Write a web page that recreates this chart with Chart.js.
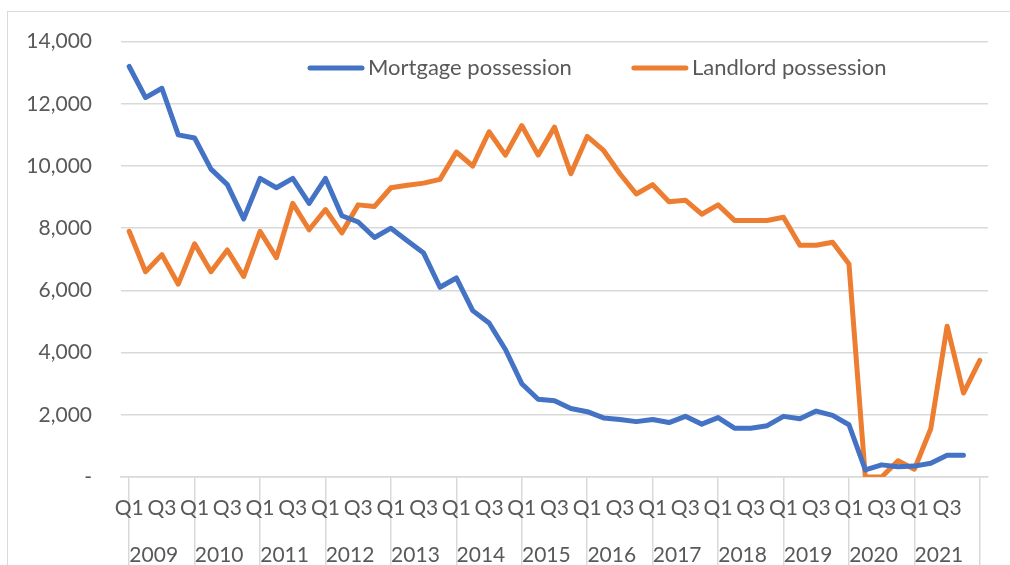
<!DOCTYPE html>
<html>
<head>
<meta charset="utf-8">
<script src="https://cdn.jsdelivr.net/npm/chart.js@4.4.0/dist/chart.umd.min.js"></script>
<style>
  html, body { margin: 0; padding: 0; background: #fff; overflow: hidden; }
  #wrap { position: relative; width: 1010px; height: 565px; overflow: hidden; }
  #frame { position: absolute; left: 7px; top: 11px; width: 1100px; height: 700px; border: 1.5px solid #d9d9d9; }
  canvas { position: absolute; left: 0; top: 0; }
</style>
</head>
<body>
<div id="wrap">
  <div id="frame"></div>
  <canvas id="chart" width="1010" height="565"></canvas>
</div>
<script>
// quarterly possession claims, 2009 Q1 onwards
const years = [2009, 2010, 2011, 2012, 2013, 2014, 2015, 2016, 2017, 2018, 2019, 2020, 2021]
const quarters = ['Q1', 'Q2', 'Q3', 'Q4']
const shownQuarters = ['Q1', 'Q3']

const mortgage = [
  13200, 12200, 12500, 11000, 10900, 9900, 9400, 8300, 9600, 9300,
  9600, 8800, 9600, 8400, 8200, 7700, 8000, 7600, 7200, 6100,
  6400, 5350, 4950, 4100, 3000, 2500, 2450, 2200, 2100, 1900,
  1850, 1780, 1850, 1750, 1950, 1700, 1910, 1570, 1570, 1650,
  1950, 1870, 2120, 1980, 1680, 230, 390, 330, 350, 440,
  700, 700
]
const landlord = [
  7900, 6600, 7150, 6200, 7500, 6600, 7300, 6450, 7900, 7050,
  8800, 7950, 8600, 7850, 8750, 8700, 9300, 9380, 9450, 9570,
  10450, 10000, 11100, 10350, 11300, 10350, 11250, 9750, 10950, 10500,
  9750, 9100, 9400, 8850, 8900, 8450, 8750, 8250, 8250, 8250,
  8350, 7450, 7450, 7550, 6850, 0, 0, 520, 250, 1550,
  4850, 2700, 3750
]
const yMax = 14000
const yStep = 2000

const GRID = '#d9d9d9'
const TEXT = '#595959'

// one category per quarter, plus a trailing unlabeled slot
const labels = years.flatMap(y => quarters.map(q => q + ' ' + y)).concat([''])

Chart.defaults.font.family = 'Lato, "Open Sans", sans-serif'
Chart.defaults.font.size = 21
Chart.defaults.color = TEXT

// legend drawn inside the plot, line sample + label
const lineLegend = {
  id: 'lineLegend',
  afterDraw(chart, args, opts) {
    const { ctx } = chart
    let x = opts.x
    ctx.save()
    ctx.font = opts.font
    ctx.textBaseline = 'middle'
    chart.data.datasets.forEach(ds => {
      ctx.strokeStyle = ds.borderColor
      ctx.lineWidth = 5
      ctx.lineCap = 'round'
      ctx.beginPath()
      ctx.moveTo(x + 2, opts.y)
      ctx.lineTo(x + opts.sample - 2, opts.y)
      ctx.stroke()
      ctx.fillStyle = TEXT
      ctx.fillText(ds.label, x + opts.sample + 4, opts.y)
      x += opts.sample + 4 + ctx.measureText(ds.label).width + opts.gap
    })
    ctx.restore()
  }
}

new Chart(document.getElementById('chart'), {
  type: 'line',
  data: {
    labels: labels,
    datasets: [
      {
        label: 'Mortgage possession',
        data: mortgage,
        borderColor: '#4472c4',
        backgroundColor: '#4472c4',
        borderWidth: 5,
        pointRadius: 0,
        tension: 0,
        borderCapStyle: 'round',
        borderJoinStyle: 'round'
      },
      {
        label: 'Landlord possession',
        data: landlord,
        borderColor: '#ed7d31',
        backgroundColor: '#ed7d31',
        borderWidth: 5,
        pointRadius: 0,
        tension: 0,
        borderCapStyle: 'round',
        borderJoinStyle: 'round'
      }
    ]
  },
  options: {
    responsive: false,
    animation: false,
    layout: { padding: { top: 40, right: 22, left: 0, bottom: 0 } },
    plugins: {
      legend: { display: false },
      tooltip: { enabled: false },
      lineLegend: { x: 308, y: 68, sample: 56, gap: 60, font: '22px Lato, "Open Sans", sans-serif' }
    },
    scales: {
      y: {
        min: 0,
        max: yMax,
        ticks: {
          stepSize: yStep,
          padding: 29,
          callback: v => v === 0 ? '-' : v.toLocaleString('en-US')
        },
        grid: { color: GRID, lineWidth: 1.5, drawTicks: false },
        border: { display: false },
        afterFit: scale => { scale.width = 121 }
      },
      x: {
        offset: true,
        ticks: {
          autoSkip: false,
          maxRotation: 0,
          padding: -69,
          callback: function (value) {
            const q = this.getLabelForValue(value).slice(0, 2)
            return shownQuarters.includes(q) ? q : ''
          }
        },
        grid: {
          drawOnChartArea: false,
          tickLength: 88,
          lineWidth: 1.5,
          // separators only between years and at the right edge
          color: ctx => (ctx.tick === undefined || ctx.index % quarters.length === 0) ? GRID : 'rgba(0,0,0,0)'
        },
        border: { display: true, color: GRID, width: 1.5 },
        afterFit: scale => { scale.height = 44 }
      },
      year: {
        type: 'linear',
        position: 'bottom',
        min: 0,
        max: labels.length,
        afterBuildTicks: scale => {
          scale.ticks = years.map((y, k) => ({ value: k * quarters.length + quarters.length / 2 }))
        },
        ticks: {
          autoSkip: false,
          maxRotation: 0,
          padding: 14,
          callback: v => String(years[(v - quarters.length / 2) / quarters.length])
        },
        grid: { display: false },
        border: { display: false },
        afterFit: scale => { scale.height = 44 }
      }
    }
  },
  plugins: [lineLegend]
})
</script>
</body>
</html>
